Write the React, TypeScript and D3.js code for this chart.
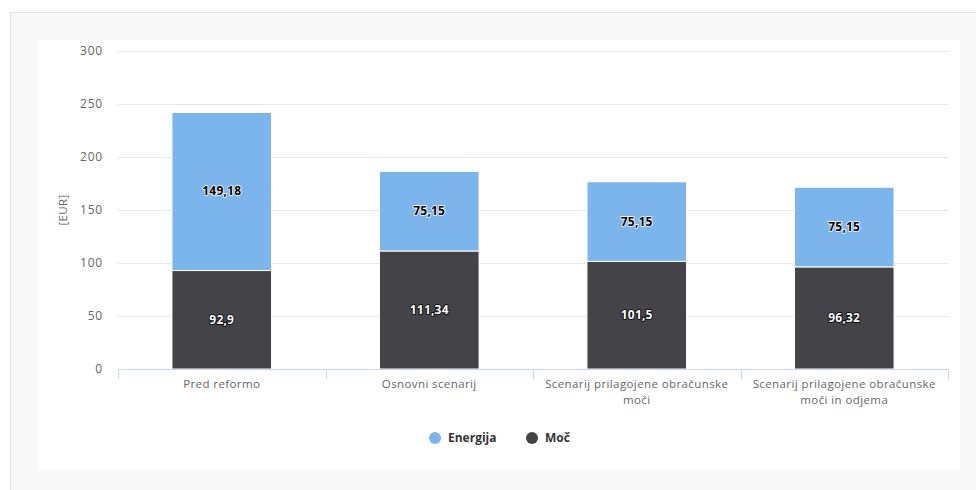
import React from "react";
import * as d3 from "d3";

const categories: string[][] = [
  ["Pred reformo"],
  ["Osnovni scenarij"],
  ["Scenarij prilagojene obračunske", "moči"],
  ["Scenarij prilagojene obračunske", "moči in odjema"],
];
const mocValues = [92.9, 111.34, 101.5, 96.32];
const energijaValues = [149.18, 75.15, 75.15, 75.15];
const yTicks = [0, 50, 100, 150, 200, 250, 300];
const seriesNames = ["Energija", "Moč"];
const colors = ["#7cb5ec", "#434348"];

const W = 976;
const H = 490;
const plotLeft = 118;
const plotRight = 948;
const plotTop = 51;
const plotBottom = 369;
const FONT = "'Open Sans', 'DejaVu Sans', sans-serif";

const fmt = (v: number) => String(v).replace(".", ",");

export default function App() {
  const x = d3
    .scaleBand<number>()
    .domain(categories.map((_, i) => i))
    .range([plotLeft, plotRight])
    .paddingInner(0)
    .paddingOuter(0);
  const y = d3.scaleLinear().domain([0, 300]).range([plotBottom, plotTop]);
  const bw = x.bandwidth();
  const barW = bw * 0.6 * 0.8;

  const stackData = categories.map((_, i) => ({
    i,
    moc: mocValues[i],
    energija: energijaValues[i],
  }));
  const stack = d3.stack<any>().keys(["moc", "energija"]);
  const layers = stack(stackData);
  const layerColor: Record<string, string> = { moc: colors[1], energija: colors[0] };

  const boundaries = categories.map((_, i) => x(i) as number).concat([plotRight]);

  return (
    <div style={{ position: "absolute", left: 0, top: 0 }}>
      <svg width={W} height={H} style={{ display: "block" }}>
        <rect x={0} y={0} width={W} height={H} fill="#ffffff" />
        <rect x={10} y={12} width={W - 10} height={H - 12} fill="#f8f8f8" />
        <line x1={10.5} y1={12} x2={10.5} y2={H} stroke="#e2e2e2" />
        <line x1={10} y1={12.5} x2={W} y2={12.5} stroke="#e2e2e2" />
        <rect x={38} y={40} width={922} height={430} fill="#ffffff" />

        {/* gridlines */}
        {yTicks.map((t) =>
          t === 0 ? null : (
            <line
              key={"g" + t}
              x1={plotLeft}
              x2={plotRight}
              y1={Math.round(y(t)) + 0.5}
              y2={Math.round(y(t)) + 0.5}
              stroke="#e6e6e6"
            />
          )
        )}
        {/* y labels */}
        {yTicks.map((t) => (
          <text
            key={"yl" + t}
            x={103}
            y={y(t) + 4}
            textAnchor="end"
            fontFamily={FONT}
            fontSize={12}
            letterSpacing={0.8}
            fill="#666666"
          >
            {t}
          </text>
        ))}
        <text
          transform={`translate(67,${(plotTop + plotBottom) / 2}) rotate(-90)`}
          textAnchor="middle"
          fontFamily={FONT}
          fontSize={11.5}
          letterSpacing={0.3}
          fill="#666666"
        >
          [EUR]
        </text>

        {/* bars */}
        {layers.map((layer) =>
          layer.map((d, i) => {
            const cx = (x(i) as number) + bw / 2;
            const y0 = y(d[0]);
            const y1 = y(d[1]);
            return (
              <rect
                key={layer.key + i}
                x={cx - barW / 2}
                y={y1}
                width={barW}
                height={y0 - y1}
                fill={layerColor[layer.key]}
                stroke="#ffffff"
                strokeWidth={1}
              />
            );
          })
        )}
        {/* data labels */}
        {layers.map((layer) =>
          layer.map((d, i) => {
            const cx = (x(i) as number) + bw / 2;
            const cy = (y(d[0]) + y(d[1])) / 2;
            const isDark = layer.key === "moc";
            const v = d[1] - d[0];
            const label = fmt(Math.round(v * 100) / 100);
            return (
              <text
                key={"dl" + layer.key + i}
                x={cx}
                y={cy + 4}
                textAnchor="middle"
                fontFamily={FONT}
                fontSize={12}
                fontWeight="bold"
                letterSpacing={0.2}
                fill={isDark ? "#ffffff" : "#000000"}
                stroke={isDark ? "#000000" : "#ffffff"}
                strokeWidth={1.6}
                strokeLinejoin="round"
                paintOrder="stroke"
              >
                {label}
              </text>
            );
          })
        )}

        {/* x axis */}
        <line x1={plotLeft} x2={plotRight} y1={plotBottom + 0.5} y2={plotBottom + 0.5} stroke="#ccd6eb" />
        {boundaries.map((b, i) => (
          <line
            key={"tk" + i}
            x1={Math.round(b) + 0.5}
            x2={Math.round(b) + 0.5}
            y1={plotBottom}
            y2={plotBottom + 10}
            stroke="#ccd6eb"
          />
        ))}
        {categories.map((lines, i) => (
          <text
            key={"xl" + i}
            x={(x(i) as number) + bw / 2}
            y={388}
            textAnchor="middle"
            fontFamily={FONT}
            fontSize={11.5}
            letterSpacing={0.4}
            fill="#666666"
          >
            {lines.map((ln, j) => (
              <tspan key={j} x={(x(i) as number) + bw / 2} dy={j === 0 ? 0 : 16}>
                {ln}
              </tspan>
            ))}
          </text>
        ))}

        {/* legend */}
        {seriesNames.map((name, i) => {
          const lx = i === 0 ? 435 : 532;
          return (
            <g key={"lg" + i}>
              <circle cx={lx} cy={438} r={6} fill={colors[i]} />
              <text
                x={lx + 13}
                y={442}
                fontFamily={FONT}
                fontSize={12}
                fontWeight="bold"
                fill="#333333"
              >
                {name}
              </text>
            </g>
          );
        })}
      </svg>
    </div>
  );
}
